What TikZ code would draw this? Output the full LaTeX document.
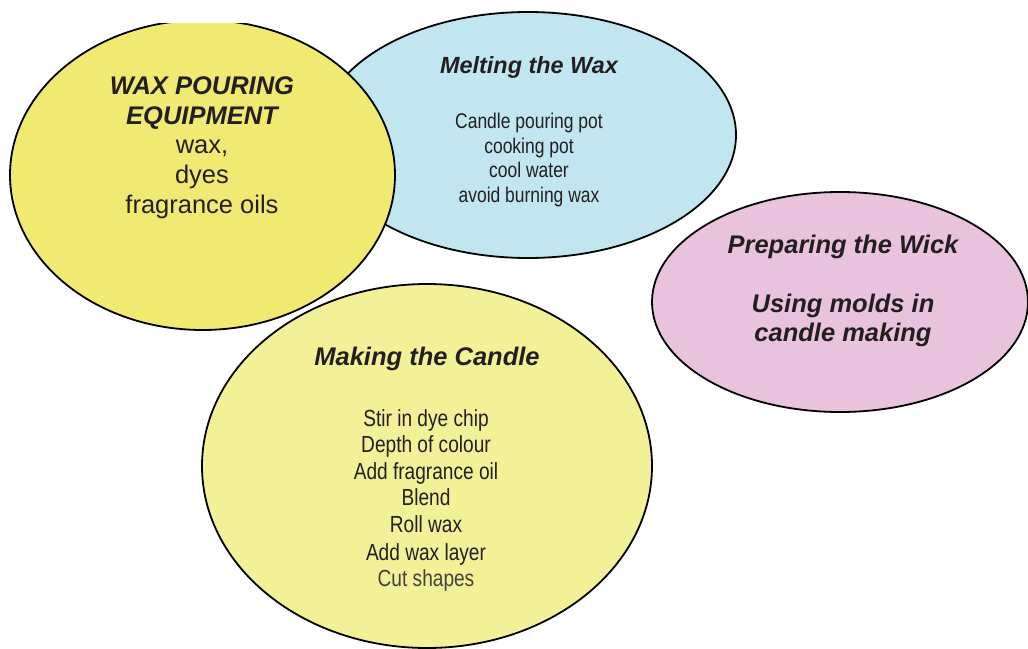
\documentclass[tikz,border=0pt]{standalone}
\usepackage{fontspec}
\setmainfont{Liberation Sans}
\newfontfamily\narrowfont[FakeStretch=0.82]{Liberation Sans}
\definecolor{waxyellow}{RGB}{240,234,115}
\definecolor{paleyellow}{RGB}{243,241,152}
\definecolor{meltblue}{RGB}{193,230,240}
\definecolor{wickpink}{RGB}{233,194,221}
\definecolor{ink}{RGB}{35,31,32}
\tikzset{
  blob/.style={ellipse, draw=black, line width=1.8pt, inner sep=0pt},
  ttl/.style={anchor=base, inner sep=0pt, text=ink, font=\fontsize{25.5}{30}\selectfont\bfseries\itshape},
  bigtxt/.style={anchor=base, inner sep=0pt, text=ink, font=\fontsize{25.5}{30}\selectfont},
  meltttl/.style={anchor=base, inner sep=0pt, text=ink, font=\fontsize{23.4}{28}\selectfont\bfseries\itshape},
  melttxt/.style={anchor=base, inner sep=0pt, text=ink, font=\narrowfont\fontsize{21.3}{25}\selectfont},
  candletxt/.style={anchor=base, inner sep=0pt, text=ink, font=\narrowfont\fontsize{23.3}{27}\selectfont},
}
\usetikzlibrary{shapes.geometric}
\begin{document}
\begin{tikzpicture}[x=1pt,y=-1pt]
\useasboundingbox (0,0) rectangle (1028,648);
\begin{scope}
\clip (0,0) rectangle (1028,648);
% Melting the wax (blue)
\node[blob, fill=meltblue, minimum width=416pt, minimum height=246pt] (melt) at (528,135) {};
% Wax pouring equipment (yellow), clipped at top
\begin{scope}
\clip (0,23) rectangle (1028,648);
\node[blob, fill=waxyellow, minimum width=385pt, minimum height=310pt] (equip) at (202.5,175) {};
\end{scope}
% Preparing the wick (pink)
\node[blob, fill=wickpink, minimum width=376pt, minimum height=220pt] (wick) at (840,302) {};
% Making the candle (pale yellow)
\node[blob, fill=paleyellow, minimum width=450pt, minimum height=364pt] (candle) at (427,466) {};
\end{scope}

% texts: equipment
\node[ttl] (e1) at (202,94) {WAX POURING};
\node[ttl] (e2) at (202,124) {EQUIPMENT};
\node[bigtxt] (e3) at (202,153) {wax,};
\node[bigtxt] (e4) at (202,183) {dyes};
\node[bigtxt] (e5) at (202,213) {fragrance oils};

% texts: melting
\node[meltttl] (m0) at (529,73) {Melting the Wax};
\node[melttxt] (m1) at (529,128) {Candle pouring pot};
\node[melttxt] (m2) at (529,153) {cooking pot};
\node[melttxt] (m3) at (529,177) {cool water};
\node[melttxt] (m4) at (529,202) {avoid burning wax};

% texts: wick
\node[ttl] (w1) at (843,253) {Preparing the Wick};
\node[ttl] (w2) at (843,312) {Using molds in};
\node[ttl] (w3) at (843,341) {candle making};

% texts: candle
\node[ttl] (c0) at (427,365) {Making the Candle};
\node[candletxt] (c1) at (426,426) {Stir in dye chip};
\node[candletxt] (c2) at (426,452) {Depth of colour};
\node[candletxt] (c3) at (426,479) {Add fragrance oil};
\node[candletxt] (c4) at (426,505) {Blend};
\node[candletxt] (c5) at (426,532) {Roll wax};
\node[candletxt] (c6) at (426,560) {Add wax layer};
\node[candletxt, text=ink!85] (c7) at (426,586) {Cut shapes};
\end{tikzpicture}
\end{document}
